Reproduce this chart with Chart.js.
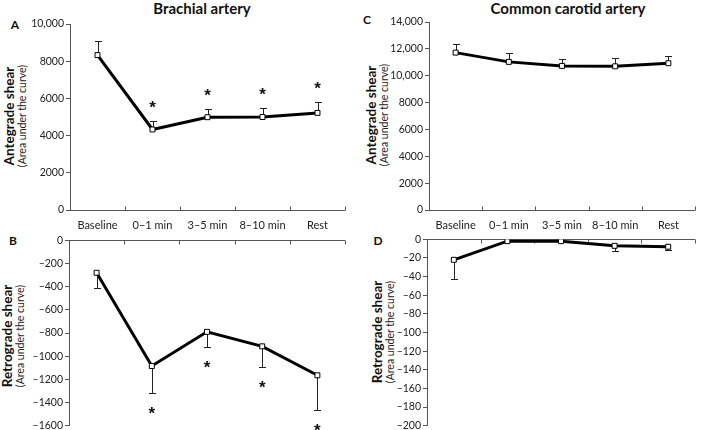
<!DOCTYPE html>
<html lang="en">
<head>
    <meta charset="UTF-8">
    <title>Brachial and common carotid shear</title>
    <script src="https://cdn.jsdelivr.net/npm/chart.js"></script>
    <style>
        body {
            margin: 0;
            width: 709px;
            height: 430px;
            overflow: hidden;
            background: #fff;
            font-family: Lato, "Open Sans", sans-serif;
            color: #111;
            position: relative;
        }
        canvas { position: absolute; }
        .title {
            position: absolute;
            font-weight: bold;
            font-size: 15px;
            transform: translate(-50%, -50%);
            white-space: nowrap;
        }
        .letter {
            position: absolute;
            font-weight: bold;
            font-size: 12px;
            transform: translate(-50%, -50%);
        }
        .ytitle {
            position: absolute;
            transform: translate(-50%, -50%) rotate(-90deg);
            text-align: center;
            white-space: nowrap;
            line-height: 1.0;
        }
        .ytitle b { font-size: 13.5px; display: block; }
        .ytitle span { font-size: 10.5px; display: block; color: #222; }
    </style>
</head>
<body>
    <div class="title" style="left:202px; top:8px;">Brachial artery</div>
    <div class="title" style="left:568px; top:8px;">Common carotid artery</div>

    <div class="letter" style="left:15px; top:24px;">A</div>
    <div class="letter" style="left:13px; top:240px;">B</div>
    <div class="letter" style="left:367px; top:19px;">C</div>
    <div class="letter" style="left:378px; top:240px;">D</div>

    <div class="ytitle" style="left:15px; top:116px;"><b>Antegrade shear</b><span>(Area under the curve)</span></div>
    <div class="ytitle" style="left:13px; top:336px;"><b>Retrograde shear</b><span>(Area under the curve)</span></div>
    <div class="ytitle" style="left:377px; top:115px;"><b>Antegrade shear</b><span>(Area under the curve)</span></div>
    <div class="ytitle" style="left:383px; top:332px;"><b>Retrograde shear</b><span>(Area under the curve)</span></div>

    <canvas id="chartA" width="325" height="222" style="left:25px; top:14px;"></canvas>
    <canvas id="chartB" width="326" height="202" style="left:24px; top:232px;"></canvas>
    <canvas id="chartC" width="316" height="224" style="left:384px; top:12px;"></canvas>
    <canvas id="chartD" width="318" height="203" style="left:382px; top:231px;"></canvas>

    <script>
        const categories = ['Baseline', '0\u20131 min', '3\u20135 min', '8\u201310 min', 'Rest'];

        // brachial artery
        const brachialAntegrade = [8330, 4330, 4990, 5000, 5220];
        const brachialAntegradeErr = [740, 470, 430, 460, 560];
        const brachialRetrograde = [-280, -1085, -790, -915, -1165];
        const brachialRetrogradeErr = [130, 229, 133, 177, 297];
        const brachialStars = [false, true, true, true, true];

        // common carotid artery
        const carotidAntegrade = [11720, 11030, 10730, 10700, 10930];
        const carotidAntegradeErr = [670, 660, 520, 600, 540];
        const carotidRetrograde = [-22, -2, -2, -7, -8];
        const carotidRetrogradeErr = [21, 1, 1, 5.5, 4];
        const carotidStars = [false, false, false, false, false];

        const AXIS = '#555';

        function fmtTick(v) {
            const a = Math.abs(v);
            const s = a >= 10000 ? a.toLocaleString('en-US') : String(a);
            return v < 0 ? '\u2013' + s : s;
        }

        // error bars (one-sided), asterisks and the Excel-like category axis
        const shearPlugin = {
            id: 'shear',
            beforeDatasetsDraw(chart, args, opts) {
                const ctx = chart.ctx;
                const x = chart.scales.x;
                const y = chart.scales.y;
                const area = chart.chartArea;
                const data = chart.data.datasets[0].data;
                ctx.save();
                // axis line at value 0 with inward tick marks
                const y0 = Math.round(y.getPixelForValue(0)) + 0.5;
                ctx.strokeStyle = AXIS;
                ctx.lineWidth = 1;
                ctx.beginPath();
                ctx.moveTo(area.left, y0);
                ctx.lineTo(area.right, y0);
                for (let i = 0; i <= data.length; i++) {
                    const px = Math.round(x.getPixelForValue(i - 0.5)) + 0.5;
                    ctx.moveTo(px, y0);
                    ctx.lineTo(px, y0 + opts.dir * 4);
                }
                ctx.stroke();
                // error bars
                ctx.strokeStyle = '#222';
                ctx.beginPath();
                data.forEach((v, i) => {
                    const px = Math.round(x.getPixelForValue(i)) + 0.5;
                    const py1 = y.getPixelForValue(v);
                    const py2 = Math.round(y.getPixelForValue(v - opts.dir * opts.err[i])) + 0.5;
                    ctx.moveTo(px, py1);
                    ctx.lineTo(px, py2);
                    ctx.moveTo(px - 3.5, py2);
                    ctx.lineTo(px + 3.5, py2);
                });
                ctx.stroke();
                // significance asterisks
                ctx.fillStyle = '#111';
                ctx.font = 'bold 17px "Liberation Sans", Arial, sans-serif';
                ctx.textAlign = 'center';
                ctx.textBaseline = 'alphabetic';
                data.forEach((v, i) => {
                    if (!opts.stars[i]) return;
                    const px = x.getPixelForValue(i);
                    const py = y.getPixelForValue(v - opts.dir * opts.err[i]);
                    // glyph centre sits ~9px above the baseline
                    ctx.fillText('*', px, py + opts.dir * 17 + 9);
                });
                ctx.restore();
            }
        };

        function makeChart(id, values, err, stars, yMin, yMax, step, showLabels, pad) {
            const dir = yMax > 0 ? -1 : 1; // -1: bars upward, 1: bars downward
            const xScale = {
                display: showLabels,
                offset: true,
                grid: { display: false, drawTicks: false, offset: true },
                border: { display: false },
                ticks: {
                    color: '#222',
                    padding: 9,
                    font: { family: 'Lato, sans-serif', size: 11 }
                }
            };
            if (showLabels) {
                xScale.afterFit = scale => { scale.height = 26; };
            }
            return new Chart(document.getElementById(id), {
                type: 'line',
                data: {
                    labels: categories,
                    datasets: [{
                        data: values,
                        borderColor: '#000',
                        borderWidth: 3,
                        tension: 0,
                        pointStyle: 'rect',
                        pointRadius: 3.5,
                        pointBorderWidth: 1,
                        pointBorderColor: '#000',
                        pointBackgroundColor: '#fff'
                    }]
                },
                options: {
                    responsive: false,
                    animation: false,
                    layout: { padding: pad },
                    plugins: {
                        legend: { display: false },
                        tooltip: { enabled: false },
                        shear: { err: err, stars: stars, dir: dir }
                    },
                    scales: {
                        x: xScale,
                        y: {
                            min: yMin,
                            max: yMax,
                            ticks: {
                                stepSize: step,
                                autoSkip: false,
                                color: '#222',
                                padding: 2,
                                font: { family: 'Lato, sans-serif', size: 10.5 },
                                callback: fmtTick
                            },
                            grid: { drawOnChartArea: false, tickLength: 4, color: AXIS },
                            border: { color: AXIS },
                            afterFit(scale) { scale.width = 45; }
                        }
                    }
                },
                plugins: [shearPlugin]
            });
        }

        makeChart('chartA', brachialAntegrade, brachialAntegradeErr, brachialStars,
            0, 10000, 2000, true, { top: 10, right: 2, bottom: 0, left: 0 });
        makeChart('chartB', brachialRetrograde, brachialRetrogradeErr, brachialStars,
            -1600, 0, 200, false, { top: 8, right: 2, bottom: 8, left: 0 });
        makeChart('chartC', carotidAntegrade, carotidAntegradeErr, carotidStars,
            0, 14000, 2000, true, { top: 10, right: 2, bottom: 0, left: 0 });
        makeChart('chartD', carotidRetrograde, carotidRetrogradeErr, carotidStars,
            -200, 0, 20, false, { top: 8, right: 2, bottom: 7, left: 0 });
    </script>
</body>
</html>
